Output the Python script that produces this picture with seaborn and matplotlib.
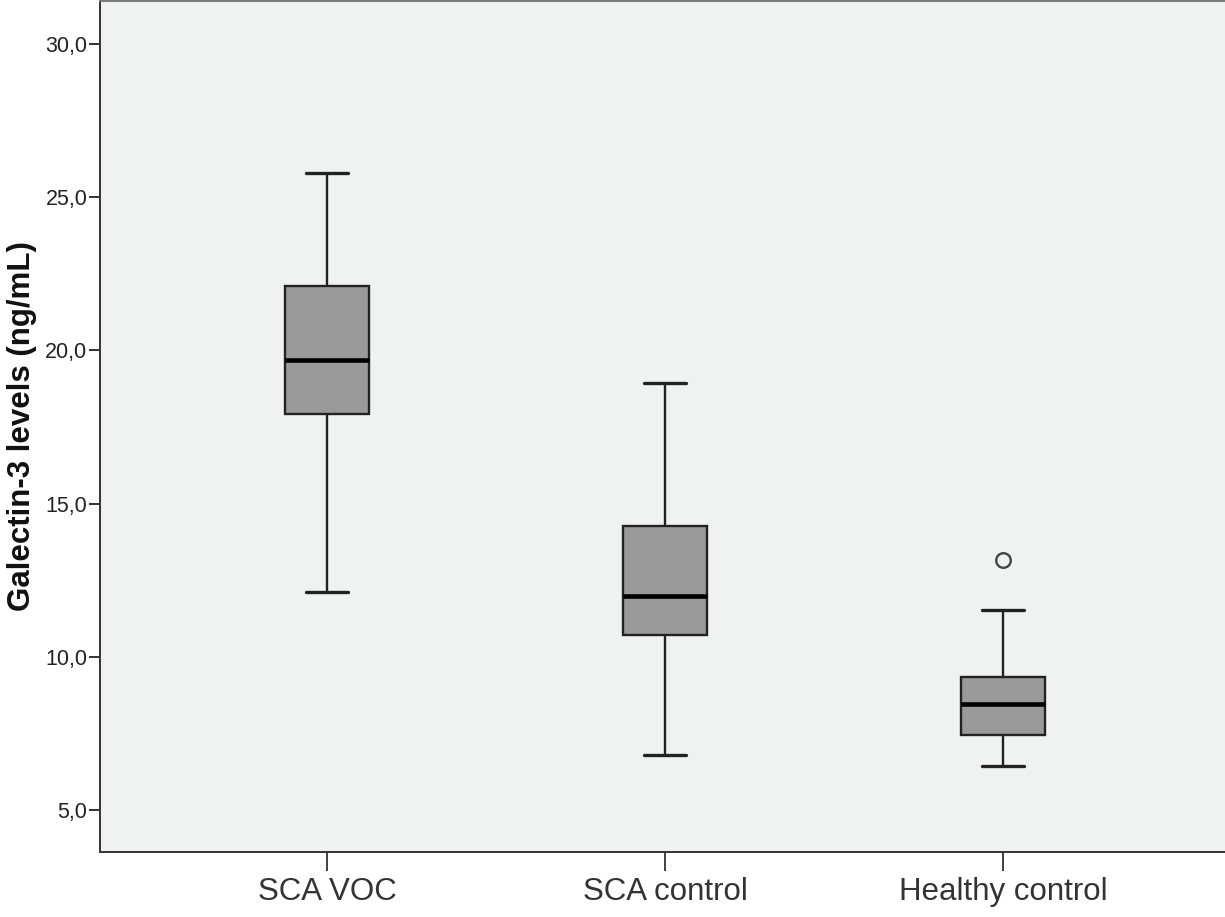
import numpy as np
import pandas as pd

import matplotlib as mpl
mpl.use('Agg')
import matplotlib.pyplot as plt
from matplotlib.ticker import FuncFormatter
import seaborn as sns

# group names as shown on the x axis
groups = ['SCA VOC', 'SCA control', 'Healthy control']

# per-group samples (min, q1, median, q3, max, outliers)
voc_vals = [12.11, 15.9, 17.91, 18.8, 19.70, 20.9, 22.11, 24.0, 25.80]
sca_ctrl_vals = [6.79, 9.1, 10.70, 11.4, 11.98, 13.0, 14.26, 16.5, 18.92]
healthy_vals = [6.43, 7.0, 7.45, 8.0, 8.46, 8.9, 9.34, 11.52, 13.15]

y_ticks = [5, 10, 15, 20, 25, 30]


def main():
    df = pd.DataFrame({
        'group': ([groups[0]] * len(voc_vals) + [groups[1]] * len(sca_ctrl_vals)
                  + [groups[2]] * len(healthy_vals)),
        'value': voc_vals + sca_ctrl_vals + healthy_vals,
        })

    sns.set_style('white')
    plt.rcParams['font.family'] = ['Liberation Sans', 'DejaVu Sans']

    fig = plt.figure(figsize=(12.25, 9.17), dpi=100)
    ax = fig.add_axes([0.0816, 0.0709, 0.9184, 0.9280])
    ax.set_facecolor('#f0f1f1')

    sns.boxplot(data=df, x='group', y='value', order=groups, ax=ax,
                color='#9a9a9a', saturation=1, width=0.25, linecolor='#222222',
                linewidth=1.7, whis=1.5,
                medianprops=dict(color='black', linewidth=3.3),
                capprops=dict(linewidth=2.4),
                flierprops=dict(marker='o', markersize=10.5,
                                markerfacecolor='none',
                                markeredgecolor='#444444',
                                markeredgewidth=1.7))

    ax.set_xlim(-0.672, 2.657)
    ax.set_ylim(3.63, 31.40)
    ax.set_yticks(y_ticks)
    ax.yaxis.set_major_formatter(
        FuncFormatter(lambda v, p: '{:.1f}'.format(v).replace('.', ',')))

    for side in ['left', 'bottom', 'top']:
        ax.spines[side].set_visible(True)
        ax.spines[side].set_color('#333333')
        ax.spines[side].set_linewidth(1.4)
    ax.spines['top'].set_color('#777777')
    ax.spines['right'].set_visible(False)

    ax.tick_params(axis='y', left=True, length=8, width=1.3, pad=1,
                   labelsize=15.5, colors='#222222')
    ax.tick_params(axis='x', bottom=True, length=14, width=1.3, pad=4,
                   labelsize=22.5, colors='#333333')

    ax.set_xlabel('')
    ax.set_ylabel('Galectin-3 levels (ng/mL)', fontsize=22.5,
                  weight='bold', color='#111111', labelpad=6)

    fig.savefig('out.png', dpi=100, facecolor='white')
    plt.close(fig)


if __name__ == '__main__':
    main()
